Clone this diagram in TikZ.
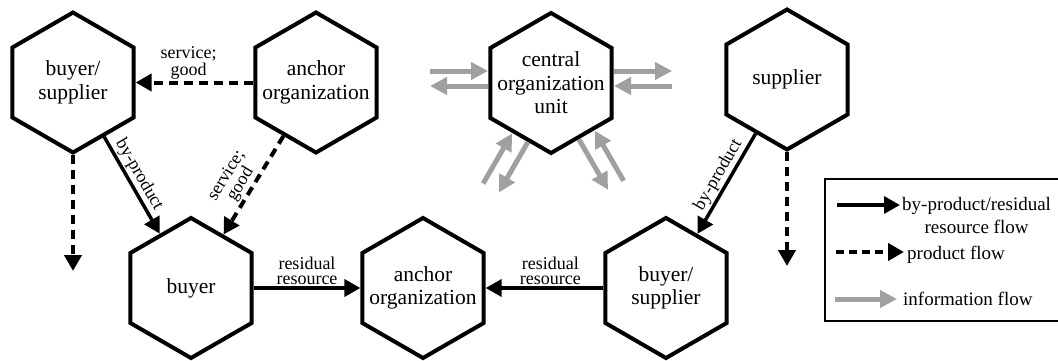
\documentclass[tikz,border=0pt]{standalone}
\usepackage{fontspec}
\setmainfont{Liberation Serif}
\usetikzlibrary{shapes.geometric,arrows.meta,calc}

\definecolor{infogray}{RGB}{160,160,160}

\begin{document}
\begin{tikzpicture}[x=1pt,y=1pt,
  hex/.style={regular polygon, regular polygon sides=6, shape border rotate=30,
    minimum size=140pt, inner sep=0pt, draw, line width=4pt},
  hexlbl/.style={font=\fontsize{21.5}{23.5}\selectfont, align=center, inner sep=0pt},
  flowlbl/.style={font=\fontsize{18}{15}\selectfont, align=center, inner sep=1.5pt},
  legendtxt/.style={font=\fontsize{19}{23}\selectfont, align=center, inner sep=0pt},
  resflow/.style={line width=3.5pt, -{Triangle[length=16pt,width=17pt]}},
  prodflow/.style={line width=4pt, dash pattern=on 9pt off 6pt, -{Triangle[length=16pt,width=17pt]}},
  infoflow/.style={line width=5pt, draw=infogray, -{Triangle[length=17pt,width=17pt,fill=infogray]}},
]
\useasboundingbox (0,0) rectangle (1058,360);
\clip (0,0) rectangle (1058,360);

% organisations
\node[hex, label={[hexlbl]center:buyer/\\supplier}] (bs1) at (73,277.5) {};
\node[hex, label={[hexlbl]center:anchor\\organization}] (anc1) at (316,277.5) {};
\node[hex, label={[hexlbl]center:central\\organization\\unit}] (cou) at (551,277) {};
\node[hex, label={[hexlbl]center:supplier}] (sup) at (787,280.5) {};
\node[hex, label={[hexlbl]center:buyer}] (buy) at (191,72) {};
\node[hex, label={[hexlbl]center:anchor\\organization}] (anc2) at (423,72) {};
\node[hex, label={[hexlbl]center:buyer/\\supplier}] (bs2) at (666,72) {};

% open ends of the outgoing product flows
\coordinate (bs1out) at (73,89);
\coordinate (supout) at (787,94);

% product and residual flows
\draw[prodflow] (anc1) -- (bs1) node[flowlbl, pos=0.55, above] {service;\\good};
\draw[resflow] (bs1) -- (buy) node[flowlbl, pos=0.45, sloped, above] {by-product};
\draw[prodflow] (anc1) -- (buy) node[flowlbl, pos=0.55, sloped, above] {service;\\good};
\draw[prodflow] (bs1.south) -- (bs1out);
\draw[resflow] (buy) -- (anc2) node[flowlbl, midway, above] {residual\\resource};
\draw[resflow] (bs2) -- (anc2) node[flowlbl, pos=0.45, above] {residual\\resource};
\draw[resflow] (sup) -- (bs2) node[flowlbl, pos=0.47, sloped, above] {by-product};
\draw[prodflow] (sup.south) -- (supout);

% information exchanged with the central unit: outward and inward arrows
\foreach \ang/\sout/\sin in {0/12/-3, 180/3/-12, -120/9.5/-8.5, -60/-4/14}{
  \draw[infoflow] ($(cou.center)+(\ang:63)+(\ang+90:\sout)$) -- ($(cou.center)+(\ang:121)+(\ang+90:\sout)$);
  \draw[infoflow] ($(cou.center)+(\ang:121)+(\ang+90:\sin)$) -- ($(cou.center)+(\ang:63)+(\ang+90:\sin)$);
}

% legend (its right side runs past the edge)
\draw[line width=2.5pt] (825,181) rectangle (1100,39);
\coordinate (lg1a) at (837,155);
\coordinate (lg1b) at (900,155);
\coordinate (lg2a) at (836,108);
\coordinate (lg2b) at (904,108);
\coordinate (lg3a) at (835,61);
\coordinate (lg3b) at (897,61);
\draw[resflow] (lg1a) -- (lg1b);
\draw[line width=4pt, dash pattern=on 8pt off 5pt, -{Triangle[length=16pt,width=17pt]}] (lg2a) -- (lg2b);
\draw[infoflow] (lg3a) -- (lg3b);
\node[legendtxt, anchor=west] (lgt1) at (902,145) {by-product/residual\\resource flow};
\node[legendtxt, anchor=base west] (lgt2) at (907,101) {product flow};
\node[legendtxt, anchor=base west] (lgt3) at (903,55) {information flow};
\end{tikzpicture}
\end{document}
